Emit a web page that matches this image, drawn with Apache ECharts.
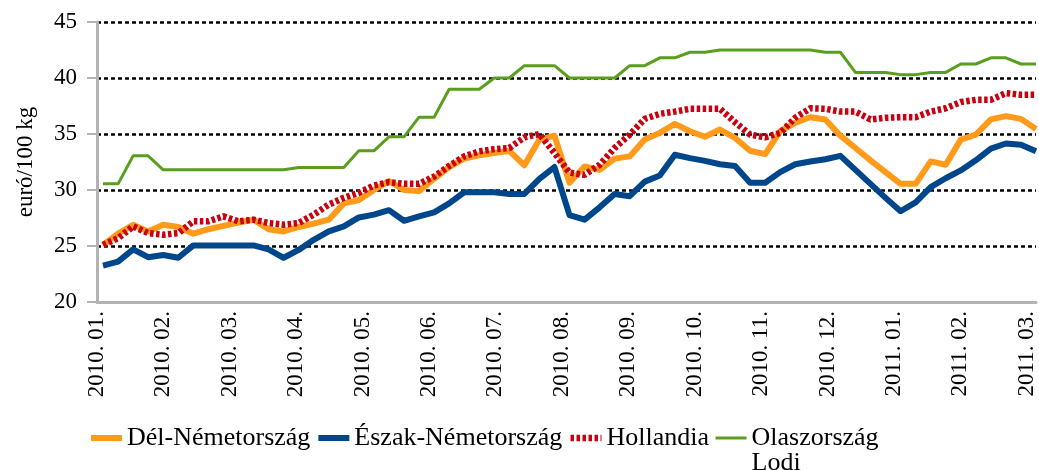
<!DOCTYPE html>
<html>
<head>
<meta charset="utf-8">
<script src="https://cdn.jsdelivr.net/npm/echarts@6/dist/echarts.min.js"></script>
<style>
html, body { margin: 0; padding: 0; background: #fff; }
#chart { width: 1039px; height: 470px; }
</style>
</head>
<body>
<div id="chart"></div>
<script>
// havi címkék az x tengelyen
var monthLabels = ['2010. 01.', '2010. 02.', '2010. 03.', '2010. 04.', '2010. 05.', '2010. 06.', '2010. 07.',
	'2010. 08.', '2010. 09.', '2010. 10.', '2010. 11.', '2010. 12.', '2011. 01.', '2011. 02.', '2011. 03.'];

// heti árak, euró/100 kg
var delNemet = [25.1, 26.1, 26.9, 26.3, 26.9, 26.7, 26.1, 26.5, 26.8, 27.1, 27.35, 26.5, 26.3, 26.7, 27.0, 27.35,
	28.8, 29.1, 30.0, 30.8, 30.0, 29.9, 31.0, 32.05, 32.8, 33.1, 33.3, 33.5, 32.2, 34.5, 34.85, 30.65,
	32.1, 31.8, 32.8, 33.0, 34.5, 35.1, 35.9, 35.25, 34.75, 35.4, 34.65, 33.5, 33.2, 35.25, 36.0,
	36.5, 36.3, 34.85, 33.75, 32.65, 31.6, 30.55, 30.55, 32.55, 32.25, 34.5, 34.95, 36.3, 36.6, 36.35, 35.45];
var eszakNemet = [23.25, 23.6, 24.7, 24.0, 24.2, 23.95, 25.05, 25.05, 25.05, 25.05, 25.05, 24.7, 23.95, 24.65, 25.55, 26.3,
	26.75, 27.55, 27.8, 28.2, 27.25, 27.65, 28.0, 28.8, 29.8, 29.8, 29.8, 29.65, 29.65, 31.0, 32.05, 27.75,
	27.35, 28.45, 29.65, 29.45, 30.75, 31.3, 33.15, 32.85, 32.6, 32.3, 32.15, 30.65, 30.65, 31.6, 32.3,
	32.55, 32.75, 33.05, 31.8, 30.55, 29.3, 28.1, 28.9, 30.25, 31.05, 31.75, 32.65, 33.7, 34.15, 34.05, 33.45];
var hollandia = [25.1, 25.7, 26.75, 26.15, 26.0, 26.15, 27.2, 27.2, 27.65, 27.2, 27.35, 27.05, 26.9, 27.05, 27.8, 28.7,
	29.3, 29.75, 30.4, 30.7, 30.55, 30.55, 31.2, 32.15, 33.0, 33.45, 33.65, 33.75, 34.7, 35.0, 33.3, 31.55,
	31.35, 32.25, 33.75, 34.95, 36.35, 36.8, 37.0, 37.25, 37.25, 37.25, 36.05, 34.95, 34.7, 35.1, 36.45,
	37.3, 37.25, 37.0, 37.0, 36.3, 36.45, 36.5, 36.5, 37.0, 37.3, 37.85, 38.05, 38.05, 38.65, 38.5, 38.5];
var olaszLodi = [30.55, 30.55, 33.05, 33.05, 31.8, 31.8, 31.8, 31.8, 31.8, 31.8, 31.8, 31.8, 31.8, 32.0, 32.0, 32.0,
	32.0, 33.5, 33.5, 34.75, 34.75, 36.5, 36.5, 39.0, 39.0, 39.0, 40.0, 40.0, 41.1, 41.1, 41.1, 40.0,
	40.0, 40.0, 40.0, 41.1, 41.1, 41.8, 41.8, 42.3, 42.3, 42.5, 42.5, 42.5, 42.5, 42.5, 42.5,
	42.5, 42.3, 42.3, 40.5, 40.5, 40.5, 40.3, 40.3, 40.5, 40.5, 41.25, 41.25, 41.8, 41.8, 41.25, 41.25];

var seriesNames = ['Dél-Németország', 'Észak-Németország', 'Hollandia', 'Olaszország Lodi'];

function toPoints(arr) { // hét sorszáma + érték
	return arr.map(function(v, i) { return [i, v]; });
}

var font = 'Liberation Serif';
var chart = echarts.init(document.getElementById('chart'));
chart.setOption({
	animation: false,
	backgroundColor: '#fff',
	grid: { left: 97, right: 3, top: 22, bottom: 168, outerBoundsMode: 'none' },
	legend: {
		left: 88,
		top: 400,
		padding: 0,
		itemWidth: 31,
		itemHeight: 14,
		itemGap: 5,
		itemStyle: { opacity: 0 },
		textStyle: { fontFamily: font, fontSize: 26, color: '#000', lineHeight: 25 },
		formatter: function(name) { // "Lodi" a második sorba, az első sor a többi felirattal egy vonalban
			return name.indexOf(' Lodi') > -1 ? '\n' + name.replace(' Lodi', '\nLodi') : name;
		},
		data: [
			{ name: seriesNames[0], lineStyle: { width: 6 } },
			{ name: seriesNames[1], lineStyle: { width: 6 } },
			{ name: seriesNames[2], lineStyle: { width: 6.5 } },
			{ name: seriesNames[3], lineStyle: { width: 3 } }
		]
	},
	xAxis: [{
		type: 'value',
		min: -0.4,
		max: 62,
		axisLine: { show: true, onZero: false, lineStyle: { color: '#b3b3b3', width: 3 } },
		axisTick: { show: false },
		axisLabel: { show: false },
		splitLine: { show: false }
	}, {
		type: 'value',
		position: 'bottom',
		min: 0,
		max: 14.14,
		interval: 1,
		axisLine: { show: false },
		axisTick: { show: false },
		splitLine: { show: false },
		axisLabel: {
			rotate: 90,
			margin: 9,
			fontFamily: font,
			fontSize: 23,
			color: '#000',
			showMinLabel: true,
			showMaxLabel: false,
			formatter: function(v) {
				return Number.isInteger(v) ? monthLabels[v] : '';
			}
		}
	}],
	yAxis: {
		type: 'value',
		min: 20,
		max: 45,
		interval: 5,
		name: 'euró/100 kg',
		nameLocation: 'middle',
		nameGap: 60,
		nameTextStyle: { fontFamily: font, fontSize: 23, color: '#000' },
		axisLine: { show: true, onZero: false, lineStyle: { color: '#b3b3b3', width: 3 } },
		axisTick: { show: true, inside: false, length: 10, lineStyle: { color: '#b3b3b3', width: 2 } },
		axisLabel: { margin: 20, fontFamily: font, fontSize: 23, color: '#000' },
		splitLine: { show: true, lineStyle: { color: '#000', width: 2.5, type: [4, 3] } }
	},
	series: [{
		name: seriesNames[0],
		type: 'line',
		symbol: 'none',
		data: toPoints(delNemet),
		color: '#ff9a1a',
		lineStyle: { color: '#ff9a1a', width: 6, join: 'round' }
	}, {
		name: seriesNames[1],
		type: 'line',
		symbol: 'none',
		data: toPoints(eszakNemet),
		color: '#00468b',
		lineStyle: { color: '#00468b', width: 6, join: 'round' }
	}, {
		name: seriesNames[2],
		type: 'line',
		symbol: 'none',
		data: toPoints(hollandia),
		color: '#c8000f',
		lineStyle: { color: '#c8000f', width: 6.5, type: [3.5, 2.5], cap: 'butt' }
	}, {
		name: seriesNames[3],
		type: 'line',
		symbol: 'none',
		data: toPoints(olaszLodi),
		color: '#5a9e1e',
		lineStyle: { color: '#5a9e1e', width: 3 }
	}]
});
</script>
</body>
</html>
